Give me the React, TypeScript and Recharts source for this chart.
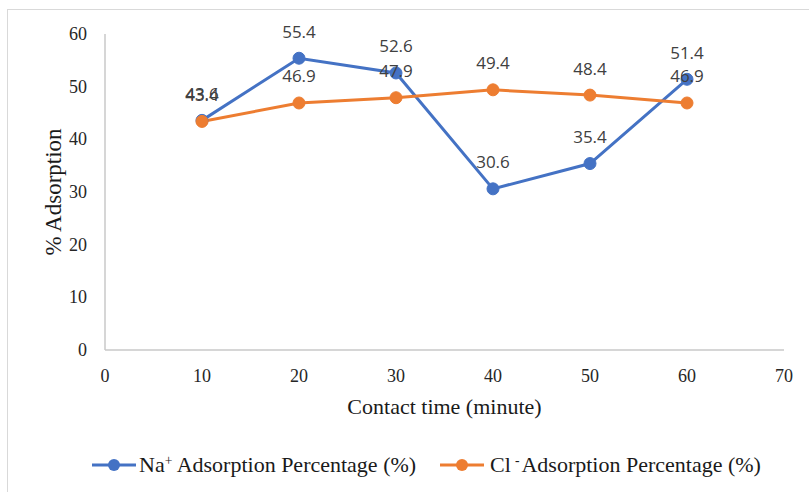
import React from 'react';
import { LineChart, Line, XAxis, YAxis, Legend, LabelList, Label } from 'recharts';

const contactTimes = [10, 20, 30, 40, 50, 60];
const naAdsorption = [43.6, 55.4, 52.6, 30.6, 35.4, 51.4];
const clAdsorption = [43.4, 46.9, 47.9, 49.4, 48.4, 46.9];
const xTicks = [0, 10, 20, 30, 40, 50, 60, 70];
const yTicks = [0, 10, 20, 30, 40, 50, 60];

const data = contactTimes.map((t, i) => ({ time: t, na: naAdsorption[i], cl: clAdsorption[i] }));

const BLUE = '#4472C4';
const ORANGE = '#ED7D31';
const AXIS = '#c8c8c8';
const SERIF = "'Liberation Serif', 'Times New Roman', serif";
const SANS = "'Open Sans', sans-serif";

const renderValueLabel = (props: any) => {
  const { x, y, value } = props;
  if (x == null || y == null || value == null) return null;
  return (
    <text x={x} y={y - 27} textAnchor="middle" dominantBaseline="central" fontFamily={SANS} fontSize={17} fill="#404040">
      {Number(value).toFixed(1)}
    </text>
  );
};

const XTick = (props: any) => {
  const { x, y, payload } = props;
  return (
    <text x={x} y={y} dy={13} textAnchor="middle" style={{ fontFamily: SERIF, fontSize: 18 }} fill="#262626">
      {payload.value}
    </text>
  );
};

const YTick = (props: any) => {
  const { x, y, payload } = props;
  return (
    <text x={x} y={y} dy={6} textAnchor="end" style={{ fontFamily: SERIF, fontSize: 18 }} fill="#262626">
      {payload.value}
    </text>
  );
};

const renderXTitle = (props: any) => {
  const vb = props.viewBox || {};
  return (
    <text x={vb.x + vb.width / 2} y={vb.y + 64} textAnchor="middle" style={{ fontFamily: SERIF, fontSize: 22 }} fill="#1a1a1a">
      Contact time (minute)
    </text>
  );
};

const renderYTitle = (props: any) => {
  const vb = props.viewBox || {};
  const cx = vb.x + 53;
  const cy = vb.y + vb.height / 2;
  return (
    <text x={cx} y={cy} transform={`rotate(-90 ${cx} ${cy})`} textAnchor="middle" dominantBaseline="central" style={{ fontFamily: SERIF, fontSize: 23 }} fill="#1a1a1a">
      % Adsorption
    </text>
  );
};

const LegendIcon = ({ color, gap }: { color: string; gap: number }) => (
  <svg width={44} height={14} style={{ display: 'block', marginRight: gap }}>
    <line x1={0} y1={7} x2={44} y2={7} stroke={color} strokeWidth={3} />
    <circle cx={22} cy={7} r={6} fill={color} />
  </svg>
);

const supStyle: React.CSSProperties = { fontSize: '0.62em', position: 'relative', top: '-0.55em' };

const renderLegend = () => (
  <div
    style={{
      display: 'flex',
      alignItems: 'center',
      paddingLeft: 92,
      height: 30,
      fontFamily: SERIF,
      fontSize: 22,
      color: '#1a1a1a',
      whiteSpace: 'nowrap',
    }}
  >
    <LegendIcon color={BLUE} gap={3} />
    <span>
      Na<span style={supStyle}>+</span> Adsorption Percentage (%)
    </span>
    <span style={{ width: 24 }} />
    <LegendIcon color={ORANGE} gap={6} />
    <span>
      Cl<span style={{ ...supStyle, padding: '0 2px 0 4px' }}>-</span>Adsorption Percentage (%)
    </span>
  </div>
);

export default function App() {
  return (
    <div style={{ position: 'absolute', left: 0, top: 0, width: 809, height: 492, background: '#fff', overflow: 'hidden' }}>
      <div
        style={{
          position: 'absolute',
          left: 7,
          top: 9,
          width: 900,
          height: 600,
          borderTop: '1px solid #d9d9d9',
          borderLeft: '1px solid #d9d9d9',
        }}
      />
      <div style={{ position: 'absolute', left: 0, top: 0 }}>
        <LineChart width={809} height={492} data={data} margin={{ top: 34, right: 25, left: 0, bottom: 12 }}>
          <XAxis
            dataKey="time"
            type="number"
            domain={[0, 70]}
            ticks={xTicks}
            height={100}
            axisLine={{ stroke: AXIS, strokeWidth: 1.5 }}
            tickLine={false}
            tickSize={6}
            tickMargin={13}
            tick={<XTick />}
            interval={0}
          >
            <Label content={renderXTitle} />
          </XAxis>
          <YAxis
            type="number"
            domain={[0, 60]}
            ticks={yTicks}
            width={105}
            axisLine={{ stroke: AXIS, strokeWidth: 1.5 }}
            tickLine={false}
            tickSize={6}
            tickMargin={12}
            tick={<YTick />}
            interval={0}
          >
            <Label content={renderYTitle} />
          </YAxis>
          <Legend verticalAlign="bottom" content={renderLegend} wrapperStyle={{ left: 0, bottom: 12, width: 809 }} />
          <Line
            type="linear"
            dataKey="na"
            stroke={BLUE}
            strokeWidth={3}
            dot={{ r: 6, fill: BLUE, stroke: BLUE, strokeWidth: 1 }}
            activeDot={false}
            isAnimationActive={false}
          >
            <LabelList dataKey="na" content={renderValueLabel} />
          </Line>
          <Line
            type="linear"
            dataKey="cl"
            stroke={ORANGE}
            strokeWidth={3}
            dot={{ r: 6, fill: ORANGE, stroke: ORANGE, strokeWidth: 1 }}
            activeDot={false}
            isAnimationActive={false}
          >
            <LabelList dataKey="cl" content={renderValueLabel} />
          </Line>
        </LineChart>
      </div>
    </div>
  );
}
